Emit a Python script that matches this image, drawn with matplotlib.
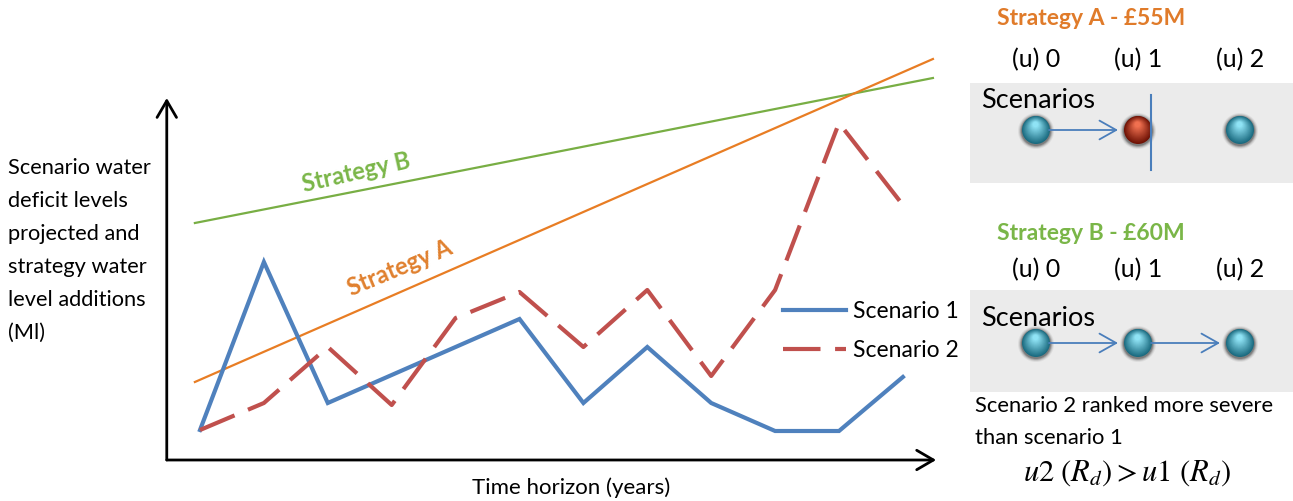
import numpy as np
import matplotlib
matplotlib.use('Agg')
import matplotlib.pyplot as plt
import matplotlib.colors as mcolors
from matplotlib.patches import Circle, Rectangle

plt.rcParams['font.family'] = ['Lato', 'DejaVu Sans']
plt.rcParams['mathtext.fontset'] = 'stix'

# ---------------- data ----------------
years = np.arange(12)
scenario_1 = [3.0, 19.8, 5.7, 8.5, 11.3, 14.1, 5.7, 11.3, 5.7, 2.9, 2.9, 8.3]
scenario_2 = [3.0, 5.7, 11.3, 5.5, 14.2, 16.8, 11.3, 17.0, 8.4, 17.0, 33.7, 25.5]
strategy_x = [-0.08, 11.47]
strategy_a = [7.8, 40.1]
strategy_b = [23.7, 38.2]

ylabel_lines = ['Scenario water', 'deficit levels', 'projected and',
                'strategy water', 'level additions', '(Ml)']
node_labels = ['(u) 0', '(u) 1', '(u) 2']
panel_titles = ['Strategy A - \u00a355M', 'Strategy B - \u00a360M']

BLUE = '#4f81bd'
RED = '#c0504d'
GREEN = '#78ae44'
ORANGE = '#e87d24'
ARROW = '#4a7ebb'

W, H = 1293, 501
fig = plt.figure(figsize=(W / 100, H / 100), dpi=100)


def px_box(l, t, r, b):
    return [l / W, 1 - b / H, (r - l) / W, (b - t) / H]


# ---------------- left chart ----------------
ax = fig.add_axes(px_box(160, 50, 945, 465))
ax.set_xlim((160 - 200) / 63.9, (945 - 200) / 63.9)
ax.set_ylim(-0.5, 41)
ax.axis('off')

x0, xtip, ytip = -0.52, 11.52, 36.2
head = '->,head_length=0.6,head_width=0.35'
ax.annotate('', xy=(x0, ytip), xytext=(x0, 0),
            arrowprops=dict(arrowstyle=head, lw=2, color='black',
                            mutation_scale=20, shrinkA=0, shrinkB=0))
ax.annotate('', xy=(xtip, 0), xytext=(x0, 0),
            arrowprops=dict(arrowstyle=head, lw=2, color='black',
                            mutation_scale=20, shrinkA=0, shrinkB=0))

ax.plot(strategy_x, strategy_b, color=GREEN, lw=1.6, clip_on=False)
ax.plot(strategy_x, strategy_a, color=ORANGE, lw=1.6, clip_on=False)
ax.plot(years, scenario_1, color=BLUE, lw=3, label='Scenario 1',
        solid_joinstyle='miter')
ax.plot(years, scenario_2, color=RED, lw=3, label='Scenario 2',
        dashes=(9, 3.5))

ax.text(2.44, 28.7, 'Strategy B', color='#7ab648', fontsize=17,
        fontweight='bold', rotation=12.8, ha='center', va='center',
        rotation_mode='anchor')
ax.text(3.13, 19.2, 'Strategy A', color='#e0802e', fontsize=17,
        fontweight='bold', rotation=22.7, ha='center', va='center',
        rotation_mode='anchor')

ax.legend(loc='upper left', bbox_to_anchor=(783 / W, 1 - 301 / H),
          bbox_transform=fig.transFigure, frameon=False, fontsize=16.5,
          handlelength=2.75, handletextpad=0.3, labelspacing=0.8,
          borderpad=0, borderaxespad=0)

# ---------------- overlay in pixel coordinates ----------------
ov = fig.add_axes([0, 0, 1, 1])
ov.set_xlim(0, W)
ov.set_ylim(H, 0)
ov.axis('off')

for i, line in enumerate(ylabel_lines):
    ov.text(8, 168 + 33 * i, line, fontsize=15.7, ha='left', va='center')
ov.text(571, 488, 'Time horizon (years)', fontsize=16, ha='center',
        va='center')


def mix(c1, c2, t):
    a, b = np.array(mcolors.to_rgb(c1)), np.array(mcolors.to_rgb(c2))
    return a + (b - a) * t


def ball(cx, cy, dark, light):
    # soft grey halo, then the shaded sphere with its highlight near the top
    for r, a in [(18, 0.08), (17, 0.14), (16, 0.25), (15, 0.35)]:
        ov.add_patch(Circle((cx, cy + 1), r, color='#3a3a3a', alpha=a,
                            lw=0))
    n = 16
    for i in range(n):
        t = i / (n - 1)
        ov.add_patch(Circle((cx - 0.5 * t, cy - 5.5 * t), 14 * (1 - 0.8 * t),
                            color=mix(dark, light, t), lw=0))


node_x = [1036, 1138, 1240]
panels = [
    dict(title_y=18, label_y=60, box=(83, 183), scen_y=100, ball_y=130,
         color='#e07b2a', links=[(0, 1)], red=1, block=1151),
    dict(title_y=234, label_y=270, box=(290, 392), scen_y=318, ball_y=343,
         color='#7ab648', links=[(0, 1), (1, 2)], red=None, block=None),
]

for title, p in zip(panel_titles, panels):
    ov.text(1091, p['title_y'], title, color=p['color'], fontsize=16.5,
            fontweight='bold', ha='center', va='center')
    for nx, lab in zip(node_x, node_labels):
        ov.text(nx, p['label_y'], lab, fontsize=18, ha='center', va='center')
    top, bot = p['box']
    ov.add_patch(Rectangle((970, top), W - 970, bot - top,
                           color='#ebebeb', lw=0))
    ov.text(981, p['scen_y'], 'Scenarios', fontsize=19.5, ha='left',
            va='center')
    for a, b in p['links']:
        ov.annotate('', xy=(node_x[b] - 20, p['ball_y']),
                    xytext=(node_x[a] + 13, p['ball_y']),
                    arrowprops=dict(arrowstyle='->,head_length=0.8,head_width=0.45',
                                    color=ARROW, lw=1.3, mutation_scale=15,
                                    shrinkA=0, shrinkB=0))
    for k, nx in enumerate(node_x):
        if k == p['red']:
            ball(nx, p['ball_y'], '#6e1205', '#f07050')
        else:
            ball(nx, p['ball_y'], '#1b6b80', '#8fe3f5')
    if p['block'] is not None:
        ov.plot([p['block'], p['block']], [p['box'][0] + 12, p['box'][1] - 13],
                color=ARROW, lw=1.5)

ov.text(975, 406, 'Scenario 2 ranked more severe', fontsize=15.8,
        ha='left', va='center')
ov.text(975, 438, 'than scenario 1', fontsize=15.8, ha='left', va='center')
ov.text(1127, 473, r'$u2\ (R_d) > u1\ (R_d)$', fontsize=22, ha='center',
        va='center')

fig.savefig('out.png', dpi=100)
